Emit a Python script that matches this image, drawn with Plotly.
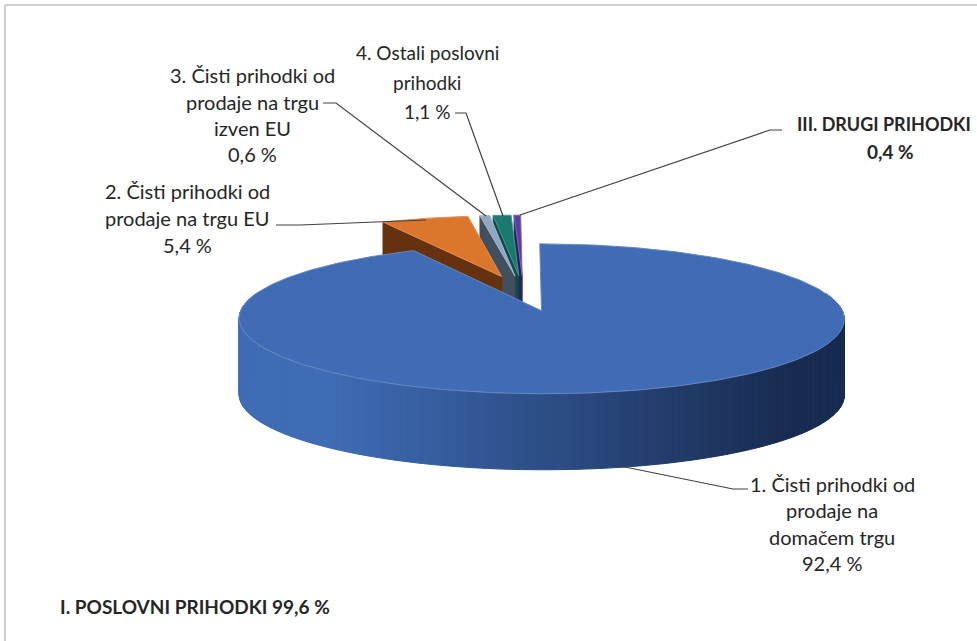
import math
import plotly.graph_objects as go

# --- data ---
slice_names = ["1. Čisti prihodki od prodaje na domačem trgu",
               "2. Čisti prihodki od prodaje na trgu EU",
               "3. Čisti prihodki od prodaje na trgu izven EU",
               "4. Ostali poslovni prihodki",
               "III. DRUGI PRIHODKI"]
slice_shares = [92.4, 5.4, 0.6, 1.1, 0.4]
top_colors = ["#3f6cb5", "#dd762d", "#8fa6c4", "#1b7a6f", "#5a3ea0"]
wall_colors = ["#3f6cb5", "#65310f", "#414f5e", "#0f4a45", "#2d2060"]

# --- pseudo-3D projection settings ---
HUB_X, HUB_Y = 523.5, 293.0
RX, RY = 293.0, 70.3
PERSP = 0.105
EXPLODE = 0.253
DEPTH = 76.0


def project(u, v, drop=0.0):
    s = 1.0 / (1.0 + PERSP * v)
    return HUB_X + RX * u * s, HUB_Y - RY * v * s + drop


def ground(tip, theta):
    return tip[0] + math.sin(theta), tip[1] + math.cos(theta)


def mix(c1, c2, t):
    a = [int(c1[i:i + 2], 16) for i in (1, 3, 5)]
    b = [int(c2[i:i + 2], 16) for i in (1, 3, 5)]
    return "#%02x%02x%02x" % tuple(round(p + (q - p) * t) for p, q in zip(a, b))


fig = go.Figure()


def poly(xs, ys, color, line=None, width=1):
    fig.add_trace(go.Scatter(x=xs, y=ys, mode="lines", fill="toself", fillcolor=color,
                             line=dict(color=line or color, width=width),
                             hoverinfo="skip", showlegend=False))


# compute angular extents, clockwise from 12 o'clock
extents = []
start = 0.0
total = 100.0
for share in slice_shares:
    end = start + share / total * 2 * math.pi
    extents.append((start, end))
    start = end

# back to front
for idx in [4, 3, 2, 1, 0]:
    a0, a1 = extents[idx]
    mid = (a0 + a1) / 2
    tip = (EXPLODE * math.sin(mid), EXPLODE * math.cos(mid))
    n = max(3, int((a1 - a0) * 60))
    arc = [ground(tip, a0 + (a1 - a0) * i / n) for i in range(n + 1)]

    if idx == 0:
        # outer wall of the large slice with a horizontal shading ramp
        front = [a for a in arc if a[1] < tip[1] + 0.25]
        for p, q in zip(front[:-1], front[1:]):
            x0, y0 = project(*p)
            x1, y1 = project(*q)
            x2, y2 = project(*q, DEPTH)
            x3, y3 = project(*p, DEPTH)
            xm = (x0 + x1) / 2
            t = min(1.0, max(0.0, (xm - 330) / (790 - 330)))
            poly([x0, x1, x2, x3, x0], [y0, y1, y2, y3, y0], mix("#3f6cb5", "#182b50", t))
    else:
        # radial cut wall on the left-hand edge
        e = ground(tip, a0)
        pts = [project(*tip), project(*e), project(*e, DEPTH), project(*tip, DEPTH)]
        poly([p[0] for p in pts] + [pts[0][0]], [p[1] for p in pts] + [pts[0][1]], wall_colors[idx])

    pts = [project(*tip)] + [project(*a) for a in arc] + [project(*tip)]
    poly([p[0] for p in pts], [p[1] for p in pts], top_colors[idx], line=mix(top_colors[idx], "#ffffff", 0.2))

# leader lines
leaders = [
    ([620, 733, 748], [466, 489, 489]),
    ([276, 300, 426], [225, 225, 220]),
    ([323, 336, 486], [103, 103, 216]),
    ([455, 466, 503], [113, 113, 216]),
    ([782, 770, 520], [130, 130, 215]),
]
for lx, ly in leaders:
    fig.add_trace(go.Scatter(x=lx, y=ly, mode="lines", line=dict(color="#404040", width=1.2),
                             hoverinfo="skip", showlegend=False))

# text
FONT = "Lato, Carlito, sans-serif"
labels = [
    ("4. Ostali poslovni", 427, 52, False, 19), ("prihodki", 427, 82, False, 19), ("1,1 %", 427, 111, False, 19),
    ("3. Čisti prihodki od", 252, 75, False, 20), ("prodaje na trgu", 252, 102, False, 20),
    ("izven EU", 252, 128, False, 20), ("0,6 %", 252, 154, False, 20),
    ("2. Čisti prihodki od", 187, 191, False, 20), ("prodaje na trgu EU", 187, 218, False, 20), ("5,4 %", 187, 245, False, 20),
    ("1. Čisti prihodki od", 832, 484, False, 20), ("prodaje na", 832, 510, False, 20),
    ("domačem trgu", 832, 537, False, 20), ("92,4 %", 832, 563, False, 20),
    ("III. DRUGI PRIHODKI", 884, 124, True, 18), ("0,4 %", 890, 151, True, 19),
    ("I. POSLOVNI PRIHODKI 99,6 %", 195, 606, True, 19),
]
for text, x, y, bold, size in labels:
    fig.add_annotation(x=x, y=y, text=f"<b>{text}</b>" if bold else text, showarrow=False,
                       xanchor="center", yanchor="middle",
                       font=dict(family=FONT, size=size, color="#262626"))

fig.update_layout(
    width=977, height=641, margin=dict(l=0, r=0, t=0, b=0),
    paper_bgcolor="white", plot_bgcolor="white", showlegend=False,
    xaxis=dict(range=[0, 977], visible=False, fixedrange=True),
    yaxis=dict(range=[641, 0], visible=False, fixedrange=True),
    shapes=[
        dict(type="line", x0=5, x1=977, y0=5, y1=5, line=dict(color="#bfbfbf", width=1.5)),
        dict(type="line", x0=5, x1=5, y0=5, y1=641, line=dict(color="#bfbfbf", width=1.5)),
    ],
)
fig.write_html("out.html", config={"displayModeBar": False},
               post_script="document.body.style.margin='0';document.body.style.overflow='hidden';")
